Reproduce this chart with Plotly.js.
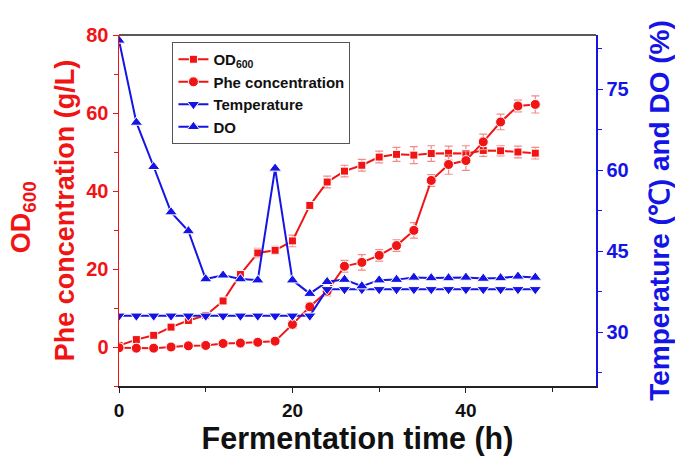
<!DOCTYPE html>
<html><head><meta charset="utf-8">
<script src="https://cdn.plot.ly/plotly-3.0.1.min.js"></script>
<style>body{margin:0;background:#fff}#chart{width:675px;height:456px}</style>
</head><body><div id="chart"></div>
<script>
const time = [0,2,4,6,8,10,12,14,16,18,20,22,24,26,28,30,32,34,36,38,40,42,44,46,48];
const od600 = [0.4,1.9,3.0,5.1,6.8,8.1,11.8,18.6,24.1,24.8,27.2,36.3,42.3,45.1,46.6,48.7,49.4,49.2,49.6,49.7,49.6,50.4,50.3,50.0,49.7];
const od600Err = [0.3,0.4,0.4,0.5,0.5,0.5,0.6,1.0,1.2,1.0,1.5,1.0,1.5,1.5,1.5,1.5,1.8,2.2,2.0,1.8,2.0,1.5,1.3,1.5,1.5];
const phe = [-0.2,-0.3,-0.3,0.0,0.3,0.4,0.9,1.0,1.2,1.5,5.8,10.3,14.3,20.7,21.7,23.5,26.0,29.9,42.7,46.8,47.8,52.6,57.7,61.8,62.2];
const pheErr = [0.2,0.2,0.2,0.2,0.2,0.2,0.3,0.3,0.3,0.3,1.0,1.0,1.2,1.5,2.0,1.5,1.5,2.0,1.5,2.5,2.5,2.0,2.0,1.5,2.2];
const temperature = [33,33,33,33,33,33,33,33,33,33,33,33,37.9,37.9,37.9,37.9,37.9,37.9,37.9,37.9,37.9,37.9,37.9,37.9,37.9];
const dissolvedO2 = [84,68.8,60.6,52.2,48.7,39.8,40.5,39.8,39.6,60.3,39.6,37.1,39.3,39.7,38.5,39.6,39.7,40.1,40.0,40.0,40.1,39.9,40.0,40.3,40.1];

const RED = '#f01414', BLUE = '#1414e6', ERR = '#f28a8a';
const FONT = 'Arial, "Liberation Sans", sans-serif';

const traces = [
  {x: time, y: od600, name: 'OD<sub>600</sub>', type: 'scatter', mode: 'lines+markers',
   line: {color: RED, width: 2}, marker: {symbol: 'square', size: 8, color: RED, line: {color: '#fff', width: 1}},
   error_y: {type: 'data', array: od600Err, color: ERR, thickness: 1.2, width: 4}},
  {x: time, y: phe, name: 'Phe concentration', type: 'scatter', mode: 'lines+markers',
   line: {color: RED, width: 2}, marker: {symbol: 'circle', size: 10, color: RED, line: {color: '#fff', width: 1}},
   error_y: {type: 'data', array: pheErr, color: ERR, thickness: 1.2, width: 4}},
  {x: time, y: temperature, name: 'Temperature', type: 'scatter', mode: 'lines+markers', yaxis: 'y2',
   line: {color: BLUE, width: 2}, marker: {symbol: 'triangle-down', size: 11, color: BLUE, line: {color: '#fff', width: 1}}},
  {x: time, y: dissolvedO2, name: 'DO', type: 'scatter', mode: 'lines+markers', yaxis: 'y2',
   line: {color: BLUE, width: 2}, marker: {symbol: 'triangle-up', size: 11, color: BLUE, line: {color: '#fff', width: 1}}}
];

const layout = {
  width: 675, height: 456,
  margin: {l: 119, r: 79, t: 35, b: 70},
  paper_bgcolor: '#fff', plot_bgcolor: '#fff',
  font: {family: FONT, weight: 'bold'},
  showlegend: true,
  legend: {x: 0.112, y: 0.98, xanchor: 'left', yanchor: 'top', bgcolor: '#fff',
    bordercolor: '#555', borderwidth: 1, font: {size: 15, color: '#111', family: FONT, weight: 'bold'},
    tracegroupgap: 0, itemwidth: 30},
  xaxis: {range: [0, 55], dtick: 20, tick0: 0, showgrid: false, zeroline: false,
    showline: true, linecolor: '#222', linewidth: 1.5, ticks: 'outside', ticklen: 5, tickcolor: '#222',
    minor: {dtick: 10, ticks: 'outside', ticklen: 4, tickcolor: '#222'},
    ticklabelstandoff: 2,
    tickfont: {size: 19, color: '#111', family: FONT, weight: 'bold'},
    title: {text: 'Fermentation time (h)', font: {size: 30.5, color: '#111', family: FONT, weight: 'bold'}, standoff: 0}},
  yaxis: {range: [-10, 80], dtick: 20, tick0: 0, showgrid: false, zeroline: false,
    showline: true, linecolor: RED, linewidth: 1.5, ticks: 'outside', ticklen: 5, tickcolor: RED,
    minor: {dtick: 10, ticks: 'outside', ticklen: 4, tickcolor: RED},
    tickfont: {size: 20, color: RED, family: FONT, weight: 'bold'},
    title: {text: 'Phe concentration (g/L)', font: {size: 27, color: RED, family: FONT, weight: 'bold'}, standoff: 4}},
  yaxis2: {range: [20, 85], dtick: 15, tick0: 0, overlaying: 'y', side: 'right', showgrid: false, zeroline: false,
    showline: true, linecolor: BLUE, linewidth: 1.5, ticks: 'outside', ticklen: 5, tickcolor: BLUE,
    minor: {dtick: 7.5, ticks: 'outside', ticklen: 4, tickcolor: BLUE},
    tickfont: {size: 20, color: BLUE, family: FONT, weight: 'bold'},
    title: {text: 'Temperature (℃) and DO (%)', font: {size: 28, color: BLUE, family: FONT, weight: 'bold'}, standoff: 21}},
  annotations: [{text: 'OD<sub>600</sub>', xref: 'paper', yref: 'paper', x: -0.202, y: 0.48,
    xanchor: 'center', yanchor: 'middle', textangle: -90, showarrow: false,
    font: {size: 27, color: RED, family: FONT, weight: 'bold'}}],
  shapes: [{type: 'line', xref: 'paper', yref: 'paper', x0: 0, x1: 1, y0: 1, y1: 1, line: {color: '#222', width: 1.5}}]
};

Plotly.newPlot('chart', traces, layout, {displayModeBar: false, staticPlot: true});
</script></body></html>
